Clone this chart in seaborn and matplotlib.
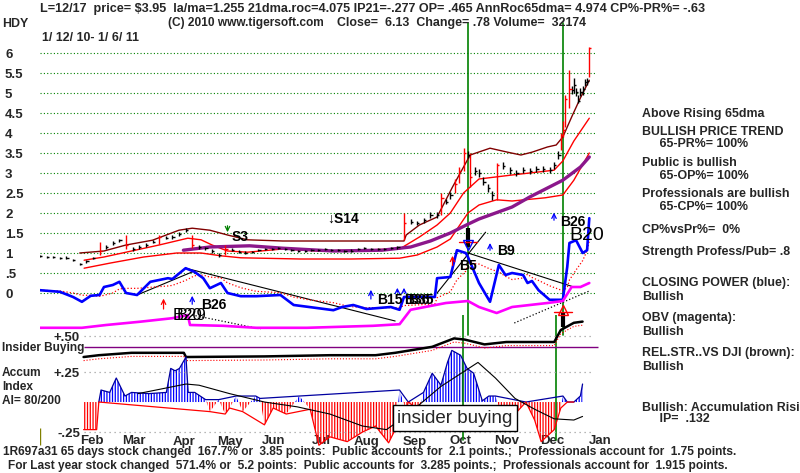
import numpy as np
import pandas as pd
import seaborn as sns
import matplotlib.pyplot as plt

W, H = 800, 473

# ---------------- price bars (trading day index, 0 = 1/12/10) ----------------
days = [0, 3, 6, 9, 12, 15, 18, 21, 24, 27, 30, 33, 36, 39, 42, 45, 48, 51, 54, 57,
        60, 63, 66, 69, 72, 75, 78, 81, 84, 87, 90, 93, 96, 99, 102, 105, 108, 111,
        114, 117, 120, 123, 126, 129, 132, 135, 138, 141, 144, 147, 150, 153, 156,
        159, 162, 165, 168, 171, 174, 177, 180, 182, 184, 186, 188, 190, 192, 194,
        195, 197, 199, 201, 203, 205, 207, 210, 213, 216, 219, 222, 225, 228, 231,
        233, 235, 236, 237, 238, 240, 241, 242, 243, 244, 245, 246, 247, 248, 249]
close = [0.92, 0.90, 0.90, 0.88, 0.88, 0.82, 0.72, 0.80, 0.88, 1.05, 1.15, 1.25, 1.32,
         1.20, 1.10, 1.15, 1.20, 1.28, 1.40, 1.38, 1.40, 1.47, 1.58, 1.20, 1.15, 1.12,
         1.05, 0.95, 1.10, 1.08, 1.03, 1.00, 1.03, 1.07, 1.10, 1.10, 1.12, 1.10, 1.07,
         1.05, 1.05, 1.07, 1.08, 1.10, 1.08, 1.07, 1.05, 1.06, 1.10, 1.12, 1.10, 1.10,
         1.10, 1.12, 1.15, 1.75, 1.78, 1.75, 1.82, 1.95, 1.95, 2.37, 2.28, 2.45, 2.72,
         3.05, 3.50, 3.45, 2.90, 3.05, 3.00, 2.78, 2.62, 2.45, 3.20, 3.18, 3.07, 3.00,
         3.08, 3.05, 3.10, 3.10, 3.08, 3.20, 3.45, 3.95, 4.07, 4.85, 5.10, 5.07, 5.20,
         5.02, 4.80, 5.02, 5.10, 5.27, 5.30, 6.13]
high = [0.95, 0.93, 0.92, 0.91, 0.92, 0.86, 0.76, 0.83, 0.91, 1.28, 1.20, 1.30, 1.36,
        1.45, 1.14, 1.19, 1.24, 1.32, 1.45, 1.42, 1.44, 1.52, 1.63, 1.45, 1.19, 1.16,
        1.09, 0.99, 1.20, 1.12, 1.07, 1.04, 1.06, 1.10, 1.13, 1.13, 1.15, 1.13, 1.10,
        1.08, 1.08, 1.10, 1.11, 1.13, 1.11, 1.10, 1.08, 1.09, 1.13, 1.15, 1.13, 1.13,
        1.13, 1.15, 1.18, 2.00, 1.84, 1.81, 1.88, 2.02, 2.02, 2.50, 2.36, 2.52, 2.85,
        3.15, 3.62, 3.55, 3.50, 3.15, 3.10, 2.90, 2.72, 2.55, 3.25, 3.28, 3.15, 3.08,
        3.16, 3.13, 3.18, 3.18, 3.16, 3.28, 3.55, 4.00, 4.30, 4.95, 5.57, 5.17, 5.37,
        5.12, 4.95, 5.12, 5.18, 5.35, 5.38, 6.15]
low = [0.89, 0.88, 0.87, 0.86, 0.85, 0.80, 0.70, 0.76, 0.85, 0.95, 1.10, 1.20, 1.27,
       1.10, 1.06, 1.11, 1.16, 1.24, 1.22, 1.34, 1.36, 1.43, 1.52, 1.12, 1.11, 1.08,
       1.00, 0.91, 0.95, 1.04, 0.99, 0.97, 1.00, 1.04, 1.07, 1.07, 1.09, 1.07, 1.04,
       1.02, 1.02, 1.04, 1.05, 1.07, 1.05, 1.04, 1.02, 1.03, 1.07, 1.09, 1.07, 1.07,
       1.07, 1.09, 1.10, 1.32, 1.72, 1.70, 1.76, 1.88, 1.88, 1.95, 2.22, 2.36, 2.50,
       2.75, 3.05, 3.38, 2.65, 2.95, 2.90, 2.70, 2.52, 2.33, 2.33, 3.10, 2.98, 2.92,
       3.00, 2.97, 3.02, 3.02, 3.00, 3.10, 3.36, 3.58, 3.90, 4.15, 4.62, 4.97, 5.00,
       4.92, 4.75, 4.92, 4.95, 5.18, 5.20, 5.40]

# ---------------- overlay lines in the price panel ----------------
upper_x = [18, 29, 39, 51, 63, 69, 77, 85, 94, 110, 141, 165, 166, 172, 180, 187, 192,
           195, 204, 212, 218, 223, 230, 234, 237, 241, 245, 249]
upper_y = [1.00, 1.05, 1.20, 1.32, 1.57, 1.62, 1.57, 1.45, 1.33, 1.30, 1.30, 1.30, 1.45,
           1.70, 1.90, 2.65, 3.15, 3.45, 3.62, 3.52, 3.45, 3.52, 3.65, 3.70, 3.90, 4.40,
           4.88, 5.32]
mid_x = [20, 29, 39, 54, 67, 73, 78, 85, 94, 110, 126, 141, 163, 172, 180, 186, 192,
         199, 214, 233, 237, 242, 249]
mid_y = [0.82, 0.90, 1.02, 1.20, 1.37, 1.33, 1.20, 1.05, 1.02, 1.10, 1.05, 1.07, 1.10,
         1.40, 1.70, 2.00, 2.50, 2.85, 2.95, 3.07, 3.30, 3.80, 4.37]
lower_x = [20, 32, 47, 62, 73, 82, 91, 118, 141, 163, 171, 180, 186, 194, 199, 207, 214,
           229, 237, 242, 249]
lower_y = [0.62, 0.75, 0.90, 1.00, 1.00, 0.93, 0.88, 0.85, 0.85, 0.87, 0.95, 1.15, 1.35,
           2.00, 2.20, 2.33, 2.30, 2.38, 2.45, 2.82, 3.50]
ma65_x = [65, 77, 89, 95, 110, 133, 155, 168, 177, 186, 194, 199, 214, 222, 237, 245, 249]
ma65_y = [1.07, 1.15, 1.17, 1.18, 1.12, 1.05, 1.07, 1.15, 1.30, 1.50, 1.72, 1.85, 2.15,
          2.40, 2.82, 3.15, 3.40]

# closing power (blue) and OBV (magenta), drawn in price-panel units
cp_x = [0, 9, 15, 19, 23, 27, 29, 33, 36, 39, 44, 50, 58, 60, 66, 70, 74, 77, 82, 85,
        91, 98, 109, 115, 122, 133, 137, 142, 148, 159, 163, 165, 179, 180, 186, 189,
        193, 194, 199, 204, 208, 211, 214, 219, 221, 223, 226, 231, 237, 239, 240, 243,
        246, 248, 249]
cp_y = [0.07, 0.03, -0.10, -0.22, -0.07, -0.05, 0.15, 0.20, 0.28, 0.00, -0.05, 0.28,
        0.37, 0.35, 0.62, 0.53, 0.37, 0.12, 0.25, 0.00, -0.08, -0.08, -0.05, -0.30,
        -0.35, -0.43, -0.35, -0.30, -0.40, -0.35, -0.42, -0.10, -0.10, 0.37, 0.40, 1.07,
        1.00, 0.90, 0.25, -0.22, 0.70, 0.45, 0.50, 0.45, 0.25, 0.30, 0.07, -0.17, -0.17,
        0.65, 1.25, 1.32, 1.00, 1.07, 1.87]
obv_x = [0, 19, 30, 45, 60, 67, 68, 83, 98, 121, 151, 163, 168, 184, 194, 199, 207, 214,
         230, 237, 241, 245, 249]
obv_y = [-0.87, -0.87, -0.80, -0.72, -0.63, -0.55, -0.80, -0.82, -0.87, -0.87, -0.82,
         -0.78, -0.42, -0.25, -0.20, -0.35, -0.50, -0.35, -0.25, -0.20, 0.15, 0.15, 0.25]

# trend lines (start day, start value, end day, end value)
trend_solid = [(66, 0.62, 161, -0.70), (194, 1.00, 242, 0.15),
               (44, -0.05, 70, 0.55), (180, 0.00, 202, 1.52)]
trend_dotted = [(69, -0.55, 100, -0.90), (215, -0.75, 249, 0.05)]

# ---------------- lower panel (accumulation index units) ----------------
ins_x = [20, 27, 42, 66, 67, 103, 133, 154, 163, 180, 190, 195, 204, 214, 236, 239, 245, 249]
ins_y = [0.375, 0.39, 0.41, 0.41, 0.375, 0.38, 0.39, 0.39, 0.41, 0.46, 0.53, 0.52, 0.48,
         0.50, 0.50, 0.60, 0.66, 0.67]
ai_x = [20, 26, 27, 28, 32, 35, 39, 42, 50, 58, 60, 62, 64, 67, 68, 71, 76, 78, 82, 85,
        87, 90, 93, 99, 101, 103, 107, 113, 119, 124, 128, 133, 141, 148, 154, 160, 163,
        165, 168, 169, 174, 176, 180, 184, 187, 189, 193, 196, 199, 203, 206, 209, 211,
        218, 223, 227, 230, 236, 239, 240, 242, 245, 248, 249]
ai_y = [-0.23, -0.23, 0.0, 0.10, 0.08, 0.20, 0.05, 0.08, 0.07, 0.08, 0.28, 0.26, 0.28,
        0.375, 0.08, 0.08, 0.02, -0.08, 0.02, -0.10, -0.05, 0.05, -0.08, 0.05, 0.03,
        -0.19, -0.05, -0.10, 0.05, -0.06, -0.36, -0.29, -0.33, -0.25, -0.20, -0.34,
        -0.23, 0.10, -0.07, 0.0, -0.07, 0.08, 0.24, 0.14, 0.33, 0.43, 0.39, 0.28, 0.24,
        0.01, 0.05, 0.05, -0.06, -0.10, 0.0, -0.15, -0.33, -0.23, -0.05, 0.05, 0.0,
        0.0, 0.05, 0.15]
aima_x = [45, 67, 73, 87, 103, 118, 133, 148, 159, 169, 184, 201, 209, 218, 227, 236, 245, 249]
aima_y = [0.07, 0.15, 0.14, 0.07, 0.0, -0.04, -0.10, -0.20, -0.23, -0.10, 0.13, 0.33,
          0.20, 0.03, -0.06, -0.14, -0.15, -0.12]

# signals
arrow_day = [56, 69, 150, 162, 165, 187, 204, 233, 85]
arrow_tail = [-0.47, -0.35, -0.22, -0.05, -0.05, 0.62, 1.00, 1.75, 1.75]
arrow_head = [-0.07, 0.00, 0.15, 0.20, 0.20, 1.00, 1.32, 2.08, 1.45]
arrow_color = ['red', 'blue', 'blue', 'blue', 'blue', 'red', 'blue', 'blue', 'green']
sig_text = ['S3', '\u2193S14', 'B20', 'B29', 'B26', 'B15', 'B36', 'B35', 'B5', 'B9', 'B26', 'B20']
sig_day = [87, 130, 60, 62, 73, 153, 165, 167, 190, 207, 236, 240]
sig_val = [1.40, 1.85, -0.55, -0.55, -0.30, -0.17, -0.17, -0.17, 0.68, 1.05, 1.78, 1.43]
sig_size = [10, 10, 12, 12, 10, 10, 10, 10, 10, 10, 10, 14]
insider_day = [194, 237]
insider_lo = [1.15, -0.85]
insider_hi = [1.62, -0.50]

price_ticks = [6, 5.5, 5, 4.5, 4, 3.5, 3, 2.5, 2, 1.5, 1, 0.5, 0]
price_tick_labels = ['6', '5.5', '5', '4.5', '4', '3.5', '3', '2.5', '2', '1.5', '1', '.5', '0']
ai_ticks = [0.55, 0.25, -0.25]
ai_tick_labels = ['+.50', '+.25', '-.25']
month_labels = ['Feb', 'Mar', 'Apr', 'May', 'Jun', 'Jul', 'Aug', 'Sep', 'Oct', 'Nov', 'Dec', 'Jan']
month_start = [13, 32, 55, 76, 96, 118, 139, 161, 182, 203, 224, 246]

# ---------------- drawing ----------------
sns.set_style('white')
plt.rcParams['font.family'] = ['Liberation Sans', 'DejaVu Sans']
plt.rcParams['hatch.linewidth'] = 0.9

fig = plt.figure(figsize=(W / 100, H / 100), dpi=100)
XMAX = 560 / 2.206
ax = fig.add_axes([40 / W, 1 - 335 / H, 560 / W, 290 / H])
ax2 = fig.add_axes([40 / W, 1 - 448 / H, 560 / W, 133 / H])
for a in (ax, ax2):
    a.set_facecolor('none')
    a.set_xlim(0, XMAX)
    for s in a.spines.values():
        s.set_visible(False)
ax.set_ylim(-1.05, 6.2)
ax2.set_ylim(-0.383, 0.725)


def line(a, x, y, **kw):
    sns.lineplot(x=x, y=y, ax=a, estimator=None, sort=False, legend=False, **kw)


# grid
ax.hlines(price_ticks, 0, 252, colors='#008000', linestyles=(0, (1, 2)), lw=0.8)
ax.set_yticks(price_ticks, price_tick_labels, fontsize=9.5, fontweight='bold')
for t in ax.get_yticklabels():
    t.set_ha('left')
ax.tick_params(axis='y', length=0, pad=25.2)
ax.set_xticks([])

# green insider lines
for d in insider_day:
    ax.axvline(d, ymin=0, ymax=1.076, color='#008000', lw=1.2, clip_on=False)
    ax2.axvline(d, ymin=0.06, ymax=1, color='#008000', lw=1.2)

# bands and moving average
line(ax, upper_x, upper_y, color='#800000', linewidth=1.0)
line(ax, mid_x, mid_y, color='red', linewidth=1.0)
line(ax, lower_x, lower_y, color='red', linewidth=1.0)
line(ax, ma65_x, ma65_y, color='#8b178b', linewidth=2.4)

# price bars
df = pd.DataFrame({'day': days, 'close': close, 'high': high, 'low': low})
df['color'] = np.where((df.high - df.low) / df.close > 0.095, 'red', 'black')
ax.vlines(df.day, df.low, df.high, colors=df.color, lw=1.0)
ax.hlines(df.close, df.day, df.day + 1.0, colors=df.color, lw=1.0)

# trend lines
for x0, y0, x1, y1 in trend_solid:
    line(ax, [x0, x1], [y0, y1], color='black', linewidth=0.8)
for x0, y0, x1, y1 in trend_dotted:
    line(ax, [x0, x1], [y0, y1], color='black', linewidth=0.9, linestyle=':')

# closing power and OBV
cp_ma = pd.Series(cp_y).rolling(5, min_periods=1).mean()
line(ax, cp_x, cp_ma, color='red', linewidth=0.9, linestyle=':')
line(ax, cp_x, cp_y, color='blue', linewidth=1.9)
line(ax, obv_x, obv_y, color='magenta', linewidth=1.9)

# signals
for d, t0, t1, c in zip(arrow_day, arrow_tail, arrow_head, arrow_color):
    ax.annotate('', xy=(d, t1), xytext=(d, t0),
                arrowprops=dict(arrowstyle='->', color=c, lw=0.9, mutation_scale=8))
for s, d, v, fs in zip(sig_text, sig_day, sig_val, sig_size):
    ax.text(d, v, s, fontsize=fs, fontweight='bold' if fs < 12 else 'normal',
            va='center', ha='left', color='black')

# insider markers
ax.vlines(insider_day, insider_lo, insider_hi, colors='black', lw=3)
ax.plot([insider_day[0] - 4, insider_day[0] + 4], [1.27, 1.27], color='red', lw=1)
ax.plot(insider_day[0], 1.2, marker='v', ms=7, mfc='none', mec='blue')
ax.plot([insider_day[1] - 4, insider_day[1] + 4], [-0.47, -0.47], color='red', lw=1)
ax.plot(insider_day[1], -0.42, marker='^', ms=7, mfc='none', mec='red')

# lower panel
ax2.hlines(ai_ticks, 20, 254, colors='#a0a0a0', linestyles=(0, (1, 3)), lw=0.9)
ax2.hlines(0.458, 20, 256, colors='#800080', lw=1.0)
line(ax2, ins_x, ins_y, color='black', linewidth=1.8)
line(ax2, ins_x, np.array(ins_y) - 0.03, color='red', linewidth=0.8, linestyle=':')
ai = np.array(ai_y)
ax2.fill_between(ai_x, ai, 0, where=ai >= 0, interpolate=True, facecolor='none',
                 edgecolor='blue', hatch='||||||', linewidth=0)
ax2.fill_between(ai_x, ai, 0, where=ai <= 0, interpolate=True, facecolor='none',
                 edgecolor='red', hatch='||||||', linewidth=0)
line(ax2, ai_x, np.where(ai >= 0, ai, np.nan), color='#0000a0', linewidth=0.9)
line(ax2, ai_x, np.where(ai <= 0, ai, np.nan), color='red', linewidth=0.9)
line(ax2, aima_x, aima_y, color='black', linewidth=0.8)
ax2.vlines(0, -0.36, -0.22, colors='#808000', lw=1)

ax2.set_yticks(ai_ticks, ai_tick_labels, fontsize=9.5, fontweight='bold')
ax2.tick_params(axis='y', length=0, pad=-28.8)
ax2.set_xticks([m + 11 for m in month_start], month_labels, fontsize=9.5, fontweight='bold')
ax2.tick_params(axis='x', length=0, pad=-9)


def ftext(x, y, s, **kw):
    kw.setdefault('fontsize', 8.6)
    kw.setdefault('fontweight', 'bold')
    fig.text(x / W, 1 - y / H, s, va='center', ha='left', **kw)


ftext(40, 9, 'L=12/17  price= $3.95  la/ma=1.255 21dma.roc=4.075 IP21=-.277 OP= .465 '
      'AnnRoc65dma= 4.974 CP%-PR%= -.63', fontsize=9.1)
ftext(2, 24, 'HDY', fontsize=8.9)
ftext(168, 23, '(C) 2010 www.tigersoft.com', fontsize=8.6)
ftext(337, 23, 'Close=  6.13  Change= .78 Volume=  32174', fontsize=8.9)
ftext(42, 38, '1/ 12/ 10- 1/ 6/ 11', fontsize=8.9)

right_text = ['Above Rising 65dma', 'BULLISH PRICE TREND', '     65-PR%= 100%',
              'Public is bullish', '     65-OP%= 100%', 'Professionals are bullish',
              '     65-CP%= 100%', 'CP%vsPr%=  0%', 'Strength Profess/Pub= .8',
              'CLOSING POWER (blue):', 'Bullish', 'OBV (magenta):', 'Bullish',
              'REL.STR..VS DJI (brown):', 'Bullish', 'Bullish: Accumulation Rising',
              '     IP=  .132']
right_y = [114, 132, 144, 163, 176, 194, 207, 230, 252, 283, 297, 318, 332, 353, 367,
           408, 419]
for s, y in zip(right_text, right_y):
    ftext(642, y, s, fontsize=8.9)

ftext(2, 348, 'Insider Buying')
ftext(2, 373, 'Accum')
ftext(2, 387, 'Index')
ftext(2, 401, 'AI= 80/200')
fig.text(455 / W, 1 - 418 / H, 'insider buying', fontsize=13.5, ha='center', va='center',
         bbox=dict(boxstyle='square,pad=0.22', fc='white', ec='black', lw=1))

ftext(3, 452, '1R697a31 65 days stock changed  167.7% or  3.85 points:  Public accounts for  '
      '2.1 points.;  Professionals account for  1.75 points.', fontsize=8.55)
ftext(8, 466, 'For Last year stock changed  571.4% or  5.2 points:  Public accounts for  '
      '3.285 points.;  Professionals account for  1.915 points.', fontsize=8.55)

fig.savefig('out.png', dpi=100, facecolor='white')
